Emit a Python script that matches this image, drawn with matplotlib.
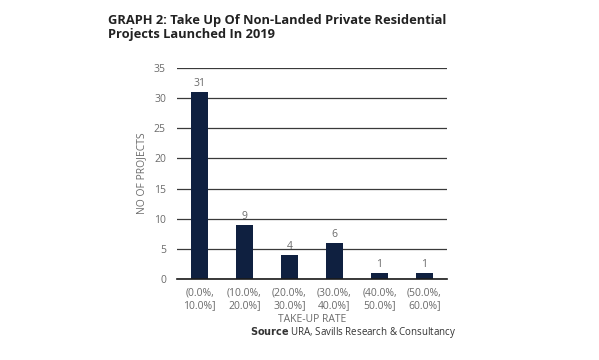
import matplotlib
matplotlib.use("Agg")
import matplotlib.pyplot as plt
import numpy as np

# Datos
categorias = ["(0.0%,\n10.0%]", "(10.0%,\n20.0%]", "(20.0%,\n30.0%]",
              "(30.0%,\n40.0%]", "(40.0%,\n50.0%]", "(50.0%,\n60.0%]"]
proyectos = [31, 9, 4, 6, 1, 1]

plt.rcParams['font.family'] = ['Open Sans', 'DejaVu Sans']

gris = '#6b6b6b'
azul = '#0f2040'

fig = plt.figure(figsize=(5.99, 3.6), dpi=100)
ax = fig.add_axes([0.2955, 0.225, 0.4507, 0.586])

x = np.arange(len(categorias))
barras = ax.bar(x, proyectos, 0.36, color=azul, zorder=3)
ax.bar_label(barras, padding=2, fontsize=7.5, color=gris)

ax.set_xlim(-0.5, len(categorias) - 0.5)
ax.set_ylim(0, 35)
ax.set_yticks(np.arange(0, 36, 5))
ax.set_xticks(x)
ax.set_xticklabels(categorias, fontsize=7.5, color=gris, linespacing=1.25)
ax.tick_params(axis='y', labelsize=7.5, labelcolor=gris, length=0, pad=8)
ax.tick_params(axis='x', length=0, pad=6)
ax.yaxis.grid(True, color='#3a3a3a', linewidth=0.9, zorder=0)

for s in ['top', 'right', 'left']:
    ax.spines[s].set_visible(False)
ax.spines['bottom'].set_color('#1a1a1a')
ax.spines['bottom'].set_linewidth(1.2)
ax.spines['bottom'].set_zorder(4)

ax.set_ylabel('NO OF PROJECTS', fontsize=7.5, color=gris, labelpad=5)
ax.set_xlabel('TAKE-UP RATE', fontsize=7.5, color=gris, labelpad=2)

fig.text(108 / 599, 1 - 14 / 360, 'GRAPH 2: Take Up Of Non-Landed Private Residential\nProjects Launched In 2019',
         fontsize=9.3, fontweight='bold', color='#222222', va='top', ha='left', linespacing=1.1)

fig.text(456 / 599, 1 - 333 / 360, r'$\bf{Source}$ URA, Savills Research & Consultancy',
         fontsize=7, color='#333333', ha='right', va='center')

fig.savefig('out.png', dpi=100, facecolor='white')
